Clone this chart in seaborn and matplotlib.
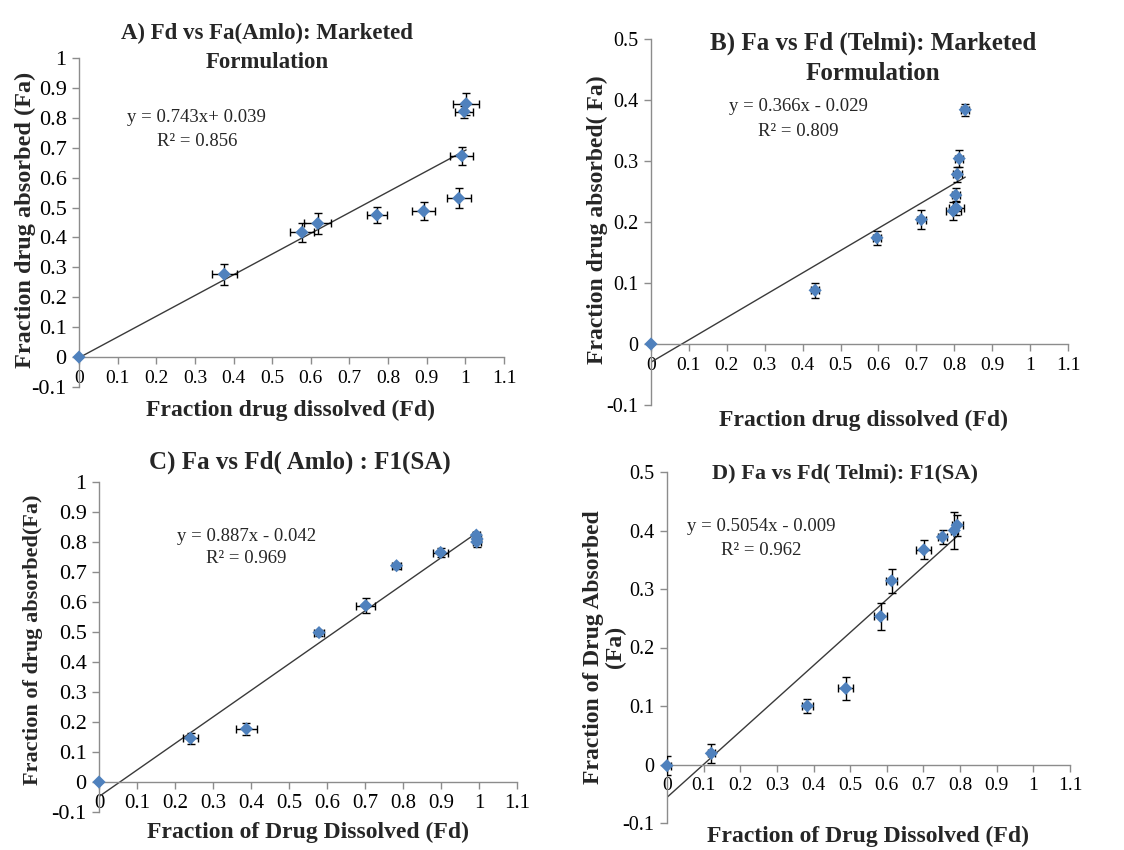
import pandas as pd
import seaborn as sns
import matplotlib.pyplot as plt
from matplotlib.ticker import MultipleLocator, FuncFormatter

sns.set_style("white")
plt.rcParams["font.family"] = ["Liberation Serif", "DejaVu Serif"]

# A) Amlo, marketed formulation
a_fd = [0, 0.376, 0.577, 0.618, 0.771, 0.892, 0.983, 0.991, 0.997, 1.002]
a_fa = [0, 0.277, 0.417, 0.447, 0.475, 0.488, 0.531, 0.673, 0.821, 0.847]
a_fd_err = [0, 0.033, 0.031, 0.035, 0.026, 0.030, 0.031, 0.030, 0.023, 0.033]
a_fa_err = [0, 0.035, 0.032, 0.035, 0.026, 0.030, 0.034, 0.030, 0.020, 0.036]

# B) Telmi, marketed formulation
b_fd = [0, 0.433, 0.596, 0.713, 0.797, 0.805, 0.804, 0.808, 0.813, 0.829]
b_fa = [0, 0.088, 0.174, 0.204, 0.218, 0.223, 0.244, 0.278, 0.304, 0.384]
b_fd_err = [0, 0.010, 0.010, 0.012, 0.020, 0.020, 0.010, 0.012, 0.010, 0.010]
b_fa_err = [0, 0.012, 0.012, 0.015, 0.015, 0.012, 0.012, 0.012, 0.014, 0.010]

# C) Amlo, F1(SA)
c_fd = [0, 0.241, 0.388, 0.579, 0.702, 0.783, 0.899, 0.993, 0.995, 0.994]
c_fa = [0, 0.146, 0.177, 0.498, 0.588, 0.721, 0.765, 0.823, 0.810, 0.800]
c_fd_err = [0, 0.020, 0.027, 0.013, 0.025, 0.012, 0.020, 0.010, 0.010, 0.010]
c_fa_err = [0, 0.018, 0.020, 0.010, 0.025, 0.010, 0.015, 0.012, 0.012, 0.015]

# D) Telmi, F1(SA)
d_fd = [0, 0.121, 0.383, 0.488, 0.583, 0.613, 0.701, 0.752, 0.784, 0.792]
d_fa = [-0.002, 0.019, 0.100, 0.130, 0.253, 0.314, 0.367, 0.389, 0.400, 0.409]
d_fd_err = [0.010, 0.010, 0.015, 0.020, 0.018, 0.015, 0.020, 0.013, 0.010, 0.015]
d_fa_err = [0.016, 0.016, 0.012, 0.020, 0.023, 0.021, 0.016, 0.012, 0.031, 0.018]

W, H = 1124, 850
fig = plt.figure(figsize=(W / 100, H / 100), dpi=100)


def px(x, y):
    return x / W, 1 - y / H


def panel(box, fd, fa, fd_err, fa_err, ymax, xsize, ysize):
    l, t, r, b = box
    ax = fig.add_axes([l / W, 1 - b / H, (r - l) / W, (b - t) / H])
    df = pd.DataFrame({"Fd": fd, "Fa": fa})
    sns.regplot(data=df, x="Fd", y="Fa", ax=ax, scatter=False, ci=None,
                line_kws=dict(color="#3a3a3a", lw=1))
    ax.errorbar(fd, fa, xerr=fd_err, yerr=fa_err, fmt="none", ecolor="black",
                elinewidth=1, capsize=3, capthick=1, zorder=3)
    sns.scatterplot(data=df, x="Fd", y="Fa", ax=ax, marker="D", s=45,
                    color="#4F81BD", edgecolor="none", zorder=4, clip_on=False)
    ax.set_xlim(0, 1.1)
    ax.set_ylim(-0.1, ymax)
    ax.xaxis.set_major_locator(MultipleLocator(0.1))
    ax.yaxis.set_major_locator(MultipleLocator(0.1))
    fmt = FuncFormatter(lambda v, _: f"{round(v, 2) + 0:g}")
    ax.xaxis.set_major_formatter(fmt)
    ax.yaxis.set_major_formatter(fmt)
    for s in ["top", "right"]:
        ax.spines[s].set_visible(False)
    ax.spines["bottom"].set_position(("data", 0))
    for s in ["left", "bottom"]:
        ax.spines[s].set_color("#8c8c8c")
        ax.spines[s].set_linewidth(1)
    ax.tick_params(direction="out", length=5, width=1, color="#8c8c8c",
                   labelcolor="black", bottom=True, left=True)
    ax.tick_params(axis="x", labelsize=xsize, pad=4)
    ax.tick_params(axis="y", labelsize=ysize, pad=4)
    ax.set_xlabel("")
    ax.set_ylabel("")
    ax.patch.set_alpha(0)
    return ax


axA = panel((79, 58, 504, 387), a_fd, a_fa, a_fd_err, a_fa_err, 1.0, 14, 16)
axB = panel((651, 39, 1068, 405), b_fd, b_fa, b_fd_err, b_fa_err, 0.5, 14, 14.5)
axC = panel((99, 482, 517, 812), c_fd, c_fa, c_fd_err, c_fa_err, 1.0, 15, 16)
axD = panel((667, 472, 1070, 823), d_fd, d_fa, d_fd_err, d_fa_err, 0.5, 14, 14.5)

# titles
bold = dict(fontweight="bold", ha="center", va="center")
fig.text(*px(267, 33), "A) Fd vs Fa(Amlo): Marketed", fontsize=16.5, **bold)
fig.text(*px(267, 62), "Formulation", fontsize=16.5, **bold)
fig.text(*px(873, 43), "B) Fa vs Fd (Telmi): Marketed", fontsize=18, **bold)
fig.text(*px(873, 73), "Formulation", fontsize=18, **bold)
fig.text(*px(300, 462), "C) Fa vs Fd( Amlo) : F1(SA)", fontsize=18, **bold)
fig.text(*px(845, 473), "D) Fa vs Fd( Telmi): F1(SA)", fontsize=16, **bold)

# axis labels
fig.text(*px(290, 410), "Fraction drug dissolved (Fd)", fontsize=17, **bold)
fig.text(*px(25, 220), "Fraction drug absorbed (Fa)", fontsize=17.5, rotation=90, **bold)
fig.text(*px(863, 420), "Fraction drug dissolved (Fd)", fontsize=17, **bold)
fig.text(*px(597, 220), "Fraction drug absorbed( Fa)", fontsize=17, rotation=90, **bold)
fig.text(*px(308, 832), "Fraction of Drug Dissolved (Fd)", fontsize=17, **bold)
fig.text(*px(33, 640), "Fraction of drug absorbed(Fa)", fontsize=16, rotation=90, **bold)
fig.text(*px(868, 836), "Fraction of Drug Dissolved (Fd)", fontsize=17, **bold)
fig.text(*px(593, 647), "Fraction of Drug Absorbed", fontsize=17, rotation=90, **bold)
fig.text(*px(615, 647), "(Fa)", fontsize=17, rotation=90, **bold)

# trendline equations
eq = dict(ha="center", va="center", fontsize=13.5)
axA.text(0.305, 0.80, "y = 0.743x+ 0.039", **eq)
axA.text(0.305, 0.72, "R² = 0.856", **eq)
axB.text(0.389, 0.389, "y = 0.366x - 0.029", **eq)
axB.text(0.389, 0.348, "R² = 0.809", **eq)
axC.text(0.388, 0.819, "y = 0.887x - 0.042", **eq)
axC.text(0.388, 0.745, "R² = 0.969", **eq)
axD.text(0.258, 0.406, "y = 0.5054x - 0.009", **eq)
axD.text(0.258, 0.366, "R² = 0.962", **eq)

fig.savefig("out.png", dpi=100, facecolor="white")
